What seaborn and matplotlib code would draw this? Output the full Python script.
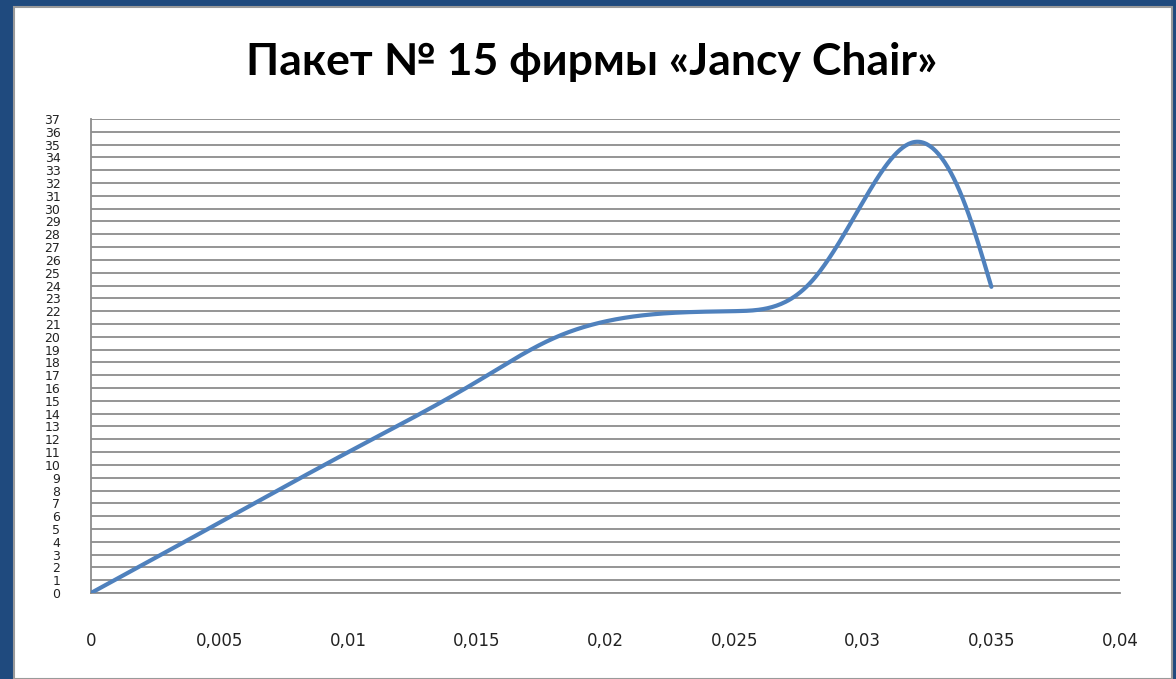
import numpy as np
import pandas as pd
import matplotlib
matplotlib.use('Agg')
import matplotlib.pyplot as plt
from matplotlib.patches import Rectangle
from matplotlib import font_manager
import seaborn as sns

# данные
x_points = [0.0, 0.005, 0.01, 0.015, 0.018, 0.02, 0.025, 0.028, 0.03, 0.032, 0.034, 0.035]
y_points = [0.0, 5.5, 11.0, 16.5, 19.9, 21.2, 22.0, 24.3, 30.5, 35.2, 30.2, 23.9]
x_ticks = [0.0, 0.005, 0.01, 0.015, 0.02, 0.025, 0.03, 0.035, 0.04]
x_tick_labels = ['0', '0,005', '0,01', '0,015', '0,02', '0,025', '0,03', '0,035', '0,04']
y_ticks = list(range(0, 38))
title = 'Пакет № 15 фирмы «Jancy Chair»'


def smooth_line(xs, ys, n=600):
    # натуральный кубический сплайн y(x) через точки
    x = np.asarray(xs, dtype=float)
    y = np.asarray(ys, dtype=float)
    m = len(x)
    h = np.diff(x)
    A = np.zeros((m, m))
    r = np.zeros(m)
    A[0, 0] = A[-1, -1] = 1.0
    for i in range(1, m - 1):
        A[i, i - 1] = h[i - 1]
        A[i, i] = 2 * (h[i - 1] + h[i])
        A[i, i + 1] = h[i]
        r[i] = 6 * ((y[i + 1] - y[i]) / h[i] - (y[i] - y[i - 1]) / h[i - 1])
    M = np.linalg.solve(A, r)
    xx = np.linspace(x[0], x[-1], n)
    k = np.clip(np.searchsorted(x, xx, side='right') - 1, 0, m - 2)
    a, b = xx - x[k], x[k + 1] - xx
    hk = h[k]
    yy = (M[k] * b ** 3 + M[k + 1] * a ** 3) / (6 * hk) \
        + (y[k] / hk - M[k] * hk / 6) * b + (y[k + 1] / hk - M[k + 1] * hk / 6) * a
    return xx, yy


sns.set_theme(style='white')
installed = {f.name for f in font_manager.fontManager.ttflist}
narrow = 'Liberation Sans Narrow' if 'Liberation Sans Narrow' in installed else 'DejaVu Sans'
plt.rcParams['font.family'] = [narrow, 'DejaVu Sans']

fig = plt.figure(figsize=(11.76, 6.79), dpi=100, facecolor='#1F4A7E')
fig.patches.append(Rectangle((14 / 1176, 0), (1172 - 14) / 1176, 672 / 679,
                             transform=fig.transFigure, facecolor='white',
                             edgecolor='#9a9a9a', lw=1.5, zorder=-5))

ax = fig.add_axes([91 / 1176, 1 - 593 / 679, (1120 - 91) / 1176, (593 - 119) / 679])
ax.set_zorder(2)
ax.set_facecolor('white')

sx, sy = smooth_line(x_points, y_points)
df = pd.DataFrame({'x': sx, 'y': sy})
sns.lineplot(data=df, x='x', y='y', ax=ax, sort=False, estimator=None,
             color='#4F81BD', lw=3, zorder=3)

ax.set_xlim(0, 0.04)
ax.set_ylim(0, 37)
ax.set_xticks(x_ticks)
ax.set_xticklabels(x_tick_labels)
ax.set_yticks(y_ticks)
ax.set_yticklabels([str(v) for v in y_ticks])
ax.yaxis.grid(True, color='#8c8c8c', lw=1.3)
ax.xaxis.grid(False)
ax.tick_params(axis='x', length=0, labelsize=12, colors='#222222', pad=28)
ax.tick_params(axis='y', length=0, labelsize=9, colors='#222222', pad=22)
for s in ['top', 'right']:
    ax.spines[s].set_visible(False)
for s in ['left', 'bottom']:
    ax.spines[s].set_color('#8c8c8c')
    ax.spines[s].set_linewidth(1.3)
ax.set_xlabel('')
ax.set_ylabel('')

fig.text(592 / 1176, 1 - 62 / 679, title, ha='center', va='center',
         fontsize=32, fontweight='bold', color='black',
         family=['Lato', 'DejaVu Sans'])

fig.savefig('out.png', dpi=100, facecolor=fig.get_facecolor())
